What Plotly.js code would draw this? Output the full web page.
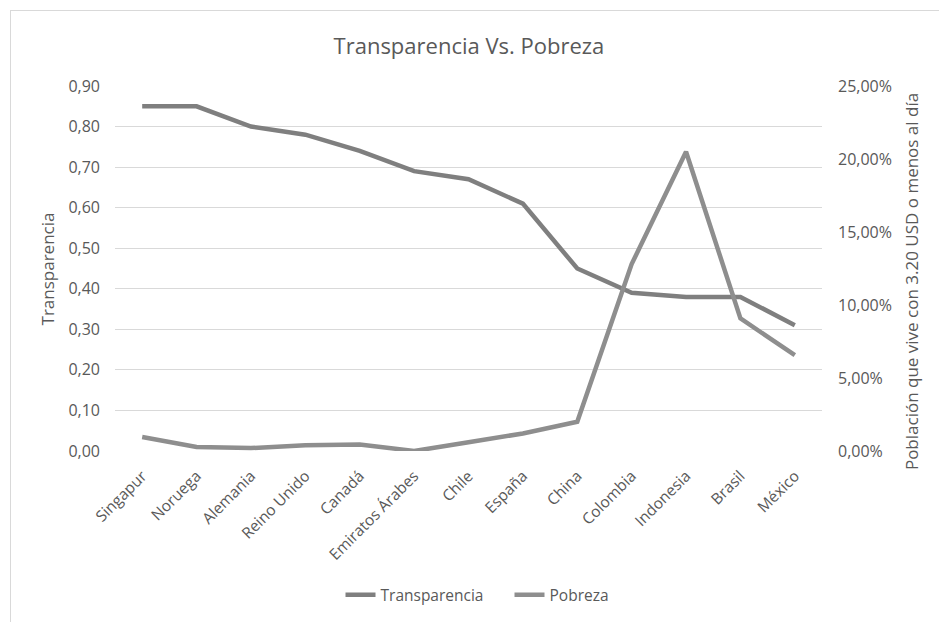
<!DOCTYPE html>
<html>
<head>
<meta charset="utf-8">
<script src="https://cdn.plot.ly/plotly-3.0.1.min.js"></script>
<style>
html,body{margin:0;padding:0;background:#fff;width:939px;height:622px;overflow:hidden;}
#frame{position:absolute;left:10px;top:10px;width:929px;height:612px;border-left:1px solid #d9d9d9;border-top:1px solid #d9d9d9;box-sizing:border-box;}
#chart{position:absolute;left:0;top:0;width:928px;height:611px;}
</style>
</head>
<body>
<div id="frame"><div id="chart"></div></div>
<script>
const paises = ["Singapur","Noruega","Alemania","Reino Unido","Canadá","Emiratos Árabes","Chile","España","China","Colombia","Indonesia","Brasil","México"];
const transparencia = [0.85,0.85,0.80,0.78,0.74,0.69,0.67,0.61,0.45,0.39,0.38,0.38,0.31];
const pobreza = [0.0096,0.0027,0.0020,0.0040,0.0045,0.0000,0.0060,0.0120,0.0200,0.1280,0.2050,0.0908,0.0656];
const leftTicks = [0,0.1,0.2,0.3,0.4,0.5,0.6,0.7,0.8,0.9];
const rightTicks = [0,0.05,0.10,0.15,0.20,0.25];

const font = {family:"Open Sans, sans-serif", color:"#595959"};
const f = s => Object.assign({}, font, {size:s});

Plotly.newPlot("chart", [
  {x:paises, y:transparencia, name:"Transparencia", type:"scatter", mode:"lines",
   line:{color:"#7f7f7f", width:4.5}, yaxis:"y"},
  {x:paises, y:pobreza, name:"Pobreza", type:"scatter", mode:"lines",
   line:{color:"#8e8e8e", width:4.5}, yaxis:"y2"}
], {
  width:928, height:611,
  separators:",.",
  paper_bgcolor:"#fff", plot_bgcolor:"#fff",
  font:f(15),
  margin:{l:104, r:117, t:75, b:171},
  title:{text:"Transparencia Vs. Pobreza", x:0.4935, xanchor:"center", yref:"container", y:0.943, yanchor:"middle",
         font:f(22)},
  showlegend:true,
  legend:{orientation:"h", x:0.558, xanchor:"center", yref:"container", y:0.044, yanchor:"middle",
          font:f(15.5), traceorder:"normal", entrywidth:124},
  xaxis:{type:"category", tickangle:-45, showgrid:false, zeroline:false, showline:false, automargin:false,
         ticks:"", tickfont:f(15.5), range:[-0.5,12.5], ticklabelstandoff:12},
  yaxis:{range:[0,0.9], tickvals:leftTicks, tickformat:".2f", showgrid:true, gridcolor:"#d9d9d9",
         gridwidth:1, zeroline:false, showline:false, ticks:"", automargin:false,
         tickfont:f(16), ticklabelstandoff:14},
  yaxis2:{overlaying:"y", side:"right", range:[0,0.25], tickvals:rightTicks, tickformat:".2%",
          showgrid:false, zeroline:false, showline:false, ticks:"", automargin:false,
          tickfont:f(16), ticklabelstandoff:15},
  annotations:[
    {text:"Transparencia", xref:"paper", yref:"paper", x:-0.0948, y:0.5, xanchor:"center", yanchor:"middle",
     textangle:-90, showarrow:false, font:f(17)},
    {text:"Población que vive con 3.20 USD o menos al día", xref:"paper", yref:"paper", x:1.126, y:0.463,
     xanchor:"center", yanchor:"middle", textangle:-90, showarrow:false, font:f(17)}
  ]
}, {displayModeBar:false, staticPlot:true});
</script>
</body>
</html>
